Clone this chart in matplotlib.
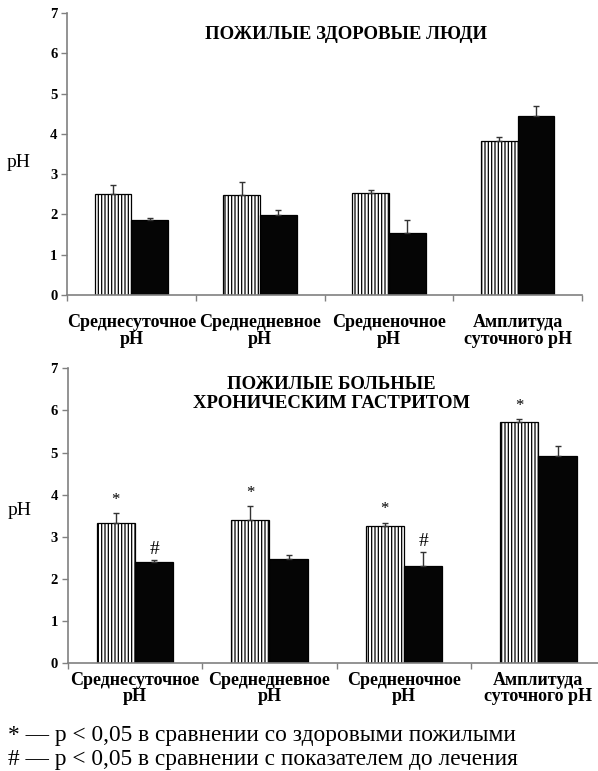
import matplotlib
matplotlib.use("Agg")
import matplotlib.pyplot as plt
import numpy as np

plt.rcParams['font.family'] = ['Liberation Serif', 'DejaVu Serif']
plt.rcParams['hatch.linewidth'] = 0.9

categories = ["Среднесуточное\npH", "Среднедневное\npH", "Средненочное\npH", "Амплитуда\nсуточного pH"]

# healthy elderly: before (hatched) / after (black)
healthy_hatched = [2.50, 2.48, 2.52, 3.82]
healthy_hatched_err = [0.23, 0.32, 0.08, 0.10]
healthy_black = [1.86, 1.99, 1.53, 4.44]
healthy_black_err = [0.04, 0.11, 0.32, 0.24]

# elderly with chronic gastritis
gastr_hatched = [3.33, 3.41, 3.26, 5.72]
gastr_hatched_err = [0.23, 0.33, 0.08, 0.08]
gastr_black = [2.41, 2.47, 2.30, 4.93]
gastr_black_err = [0.04, 0.11, 0.34, 0.23]

gastr_star = [True, True, True, True]
gastr_hash = [True, False, True, False]

title_top = "ПОЖИЛЫЕ ЗДОРОВЫЕ ЛЮДИ"
title_bottom = "ПОЖИЛЫЕ БОЛЬНЫЕ\nХРОНИЧЕСКИМ ГАСТРИТОМ"
notes = ["* — p < 0,05 в сравнении со здоровыми пожилыми",
         "# — p < 0,05 в сравнении с показателем до лечения"]

W, H = 598, 771
fig = plt.figure(figsize=(W / 100, H / 100), dpi=100)

spine_col = "#808080"
bw = 0.285


def draw_panel(ax, hatched, hatched_err, black, black_err, title, title_xy, label_pad, ylab_xy):
    x = np.arange(len(categories)) + 0.5
    ax.bar(x - bw / 2, hatched, bw, color="white", edgecolor="black", hatch="|||||", lw=0.9, zorder=2)
    ax.bar(x + bw / 2, black, bw, color="#050505", edgecolor="black", lw=0.9, zorder=2)
    ax.errorbar(x - bw / 2, hatched, yerr=[np.zeros(len(x)), hatched_err], fmt="none",
                ecolor="#333333", elinewidth=1, capsize=2.5, capthick=1, zorder=3)
    ax.errorbar(x + bw / 2, black, yerr=[np.zeros(len(x)), black_err], fmt="none",
                ecolor="#333333", elinewidth=1, capsize=2.5, capthick=1, zorder=3)
    ax.set_xlim(0, len(categories))
    ax.set_ylim(0, 7)
    ax.set_yticks(range(8))
    ax.set_yticklabels([str(i) for i in range(8)], fontweight="bold", fontsize=10.5)
    ax.set_xticks(np.arange(len(categories) + 1))
    ax.set_xticklabels([])
    ax.tick_params(axis="both", color=spine_col, length=4, width=1)
    ax.tick_params(axis="y", pad=3)
    for s in ["top", "right"]:
        ax.spines[s].set_visible(False)
    for s in ["left", "bottom"]:
        ax.spines[s].set_color(spine_col)
        ax.spines[s].set_linewidth(1.2)
    for xi, lab in zip(x, categories):
        ax.annotate(lab, xy=(xi, 0), xycoords=("data", "axes fraction"),
                    xytext=(0, -label_pad), textcoords="offset points",
                    ha="center", va="top", fontsize=13, fontweight="bold", linespacing=0.95)
    ax.text(title_xy[0], title_xy[1], title, transform=ax.transAxes, ha="center", va="center",
            fontsize=13.5, fontweight="bold", linespacing=1.12)
    ax.set_ylabel("pH", rotation=0, fontsize=14)
    ax.yaxis.set_label_coords(*ylab_xy)
    return x


ax1 = fig.add_axes([67 / W, 1 - 295 / H, 515 / W, 282 / H])
draw_panel(ax1, healthy_hatched, healthy_hatched_err, healthy_black, healthy_black_err,
           title_top, (0.542, 0.922), 14, (-0.093, 0.44))

ax2 = fig.add_axes([67.7 / W, 1 - 663.3 / H, 538 / W, 295 / H])
x2 = draw_panel(ax2, gastr_hatched, gastr_hatched_err, gastr_black, gastr_black_err,
                title_bottom, (0.49, 0.912), 6, (-0.09, 0.49))

for i, xi in enumerate(x2):
    if gastr_star[i]:
        ax2.text(xi - bw / 2, gastr_hatched[i] + gastr_hatched_err[i] + 0.12, "*",
                 ha="center", va="bottom", fontsize=12)
    if gastr_hash[i]:
        ax2.text(xi + bw / 2, gastr_black[i] + gastr_black_err[i] + 0.05, "#",
                 ha="center", va="bottom", fontsize=14)

fig.text(8 / W, 1 - 736 / H, notes[0], ha="left", va="center", fontsize=16.8)
fig.text(8 / W, 1 - 759 / H, notes[1], ha="left", va="center", fontsize=16.8)

fig.savefig("out.png", dpi=100)
